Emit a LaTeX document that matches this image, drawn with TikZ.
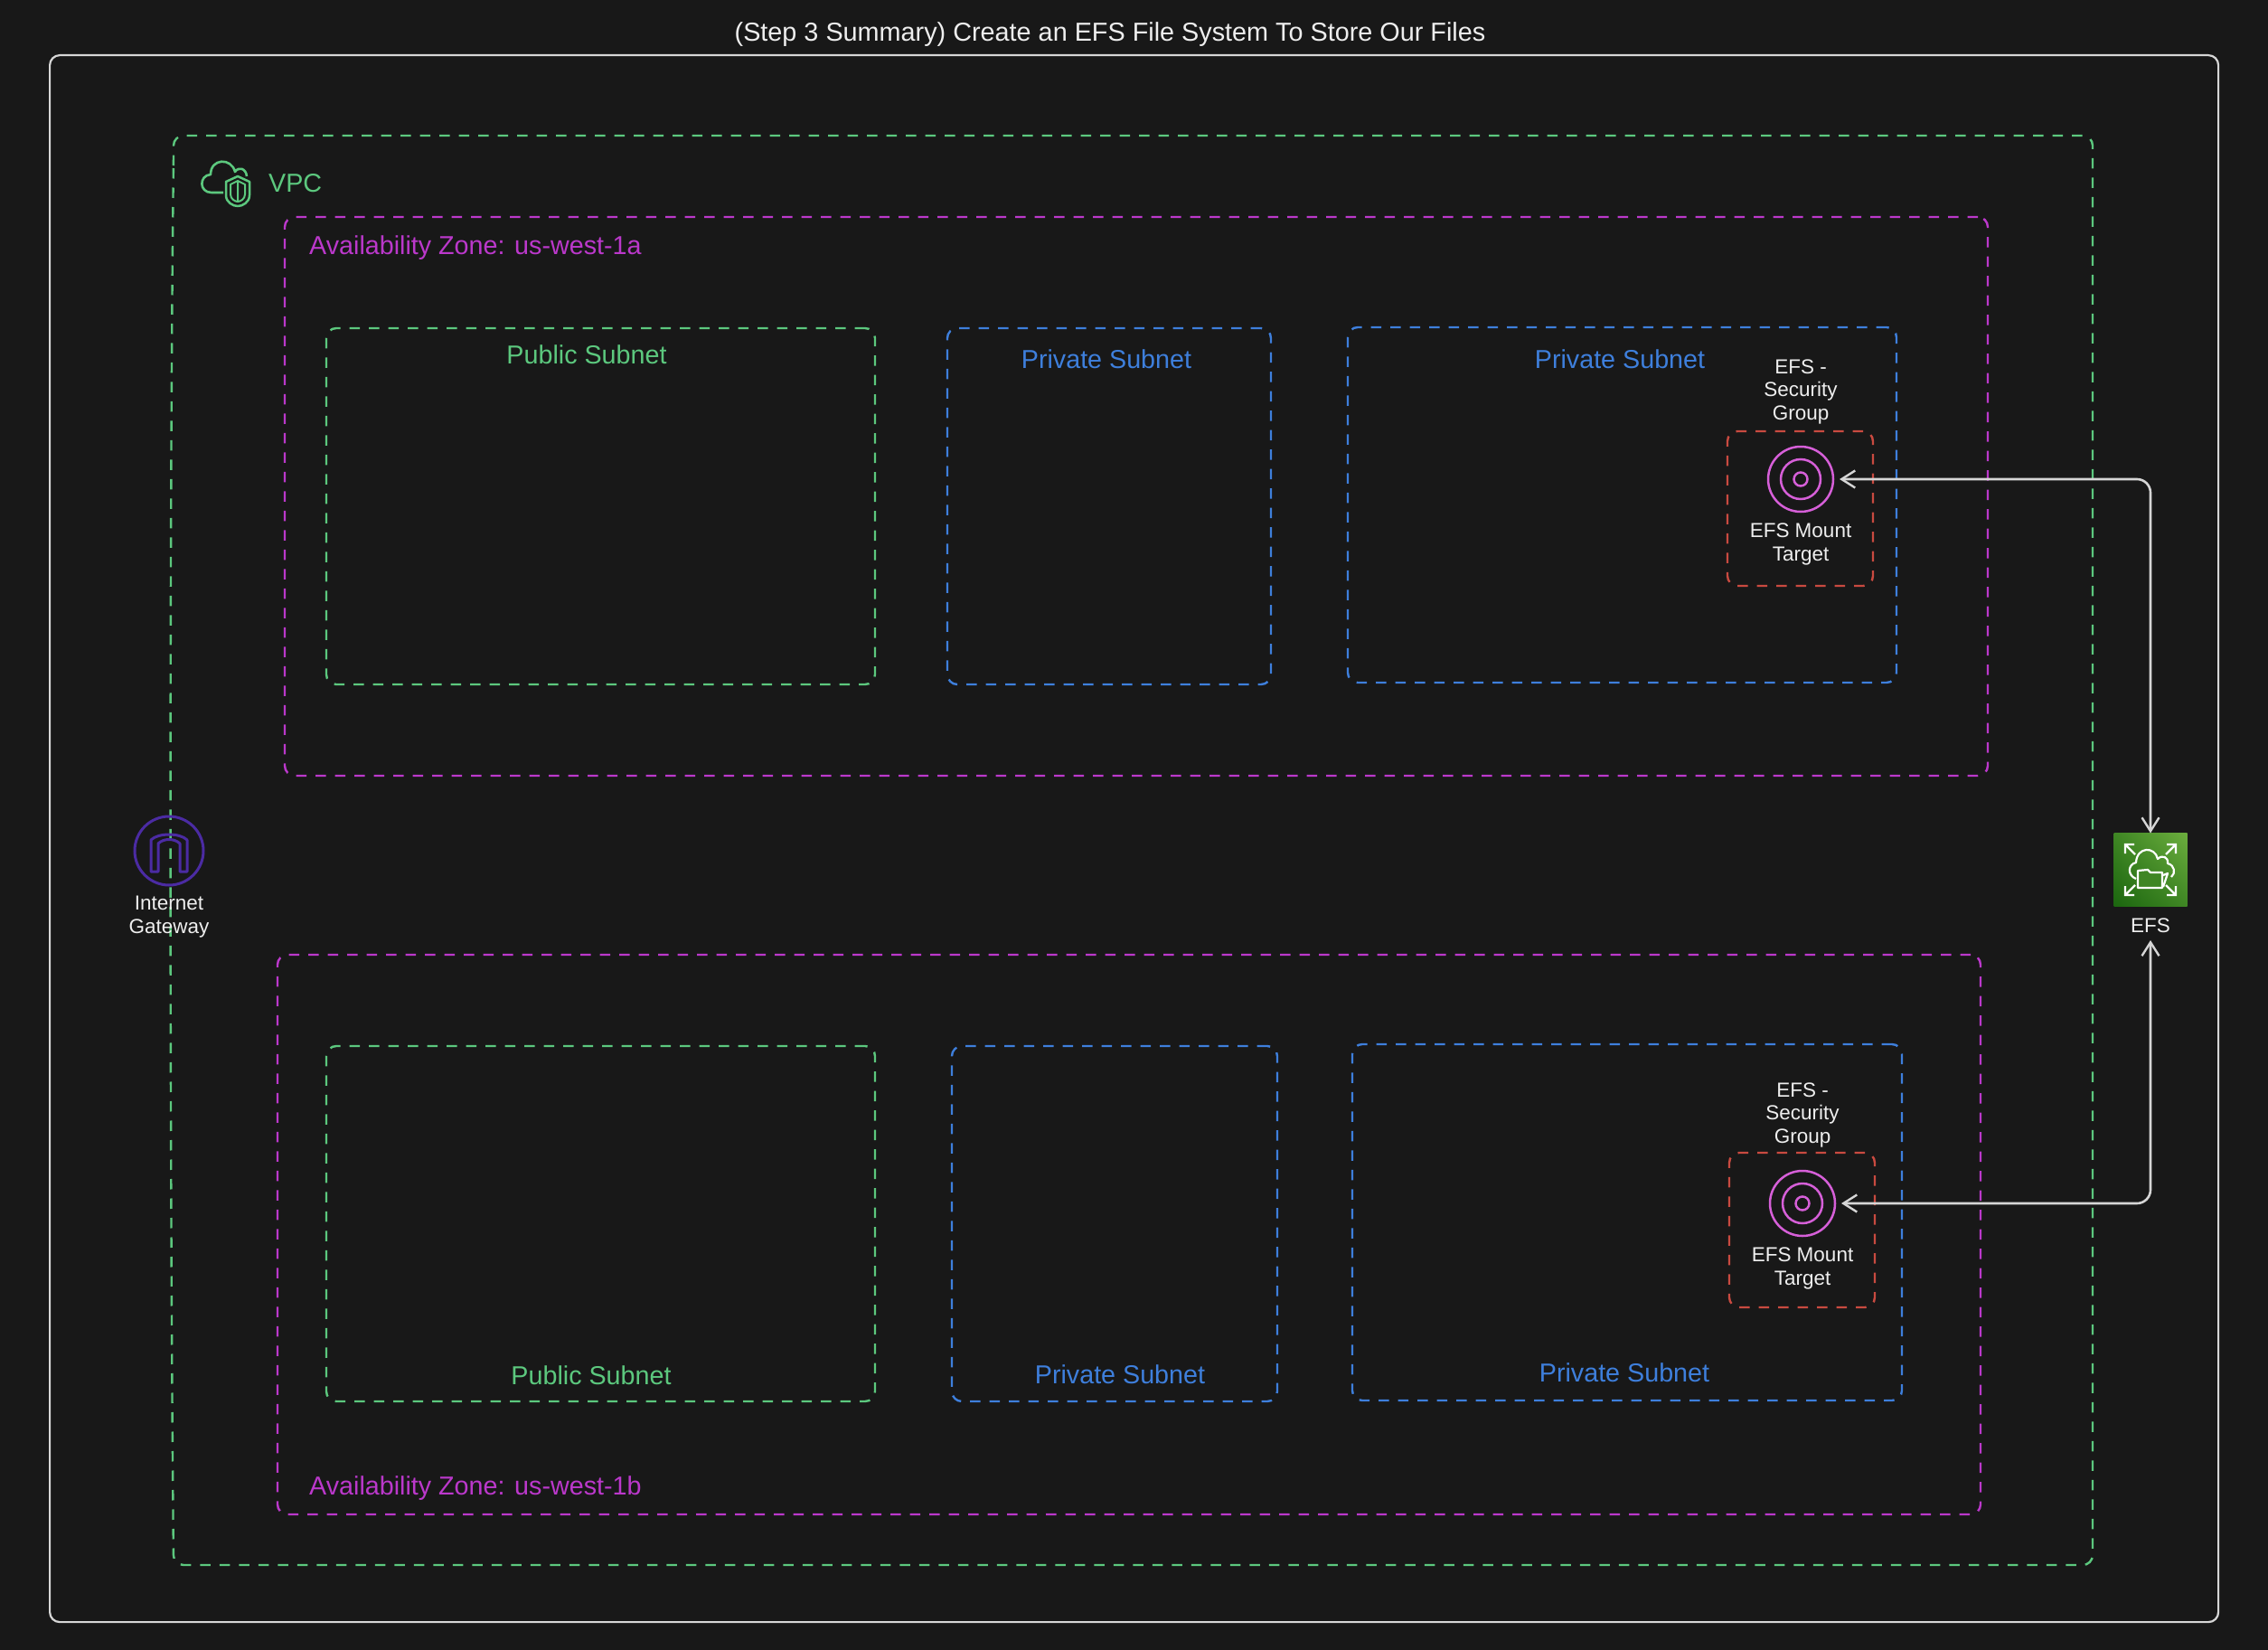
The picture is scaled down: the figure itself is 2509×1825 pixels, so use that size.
\documentclass[tikz,border=0pt]{standalone}
\usepackage{fontspec}
\setmainfont{Liberation Sans}
\usepackage{xcolor}
\usetikzlibrary{calc, positioning, arrows.meta, shadings}
\definecolor{bgdark}{HTML}{181818}
\definecolor{vpcgreen}{HTML}{5CC87E}
\definecolor{azpink}{HTML}{BB38CB}
\definecolor{subblue}{HTML}{3E7FDC}
\definecolor{sgred}{HTML}{C94A40}
\definecolor{mtpink}{HTML}{D65FD8}
\definecolor{igwblue}{HTML}{4B2BA3}
\definecolor{framegrey}{HTML}{D6D6D6}
\definecolor{txtwhite}{HTML}{EEEEEE}
\definecolor{efsdark}{HTML}{1B660F}
\definecolor{efsmid}{HTML}{3F8624}
\definecolor{efslight}{HTML}{6CAE3E}
\tikzset{
    zonebox/.style={draw=#1, line width=2.4pt, dash pattern=on 11.5pt off 10pt, rounded corners=11pt, inner sep=0pt, outer sep=0pt, anchor=north west},
    boxlabel/.style={text=#1, font=\fontsize{28.7}{32}\selectfont, inner sep=0pt},
    smalllabel/.style={text=txtwhite, font=\fontsize{22.5}{25.5}\selectfont, align=center, inner sep=0pt},
    flow/.style={draw=framegrey, line width=2.6pt, rounded corners=15pt, {Straight Barb[length=15pt,width=19pt,line width=2.4pt]}-{Straight Barb[length=15pt,width=19pt,line width=2.4pt]}},
    mountring/.style={circle, draw=mtpink, line width=2.5pt, inner sep=0pt, minimum size=#1}
}
\begin{document}
\begin{tikzpicture}[x=1pt, y=-1pt]
    \useasboundingbox (0,0) rectangle (2509,1825);
    \fill[bgdark] (0,0) rectangle (2509,1825);

    \node[draw=framegrey, line width=2.2pt, rounded corners=11pt, inner sep=0pt, anchor=north west, minimum width=2399pt, minimum height=1733pt] (frame) at (54,60) {};
    \node[text=txtwhite, font=\fontsize{28.8}{32}\selectfont, inner sep=0pt] (title) at (1228,38) {(Step 3 Summary) Create an EFS File System To Store Our Files};

    \draw[vpcgreen, line width=2.4pt, dash pattern=on 11.5pt off 10pt, rounded corners=11pt] (192,175) .. controls (188,500) and (187,1200) .. (192,1731) -- (2315,1731) -- (2315,150) -- (192,150) -- cycle;

    \foreach \n/\c/\x/\y/\w/\h in {
        azA/azpink/315/240/1884/618, azB/azpink/307/1056/1884/619,
        pubA/vpcgreen/361/363/607/394, privA/subblue/1048/363/358/394, privC/subblue/1491/362/607/393,
        pubB/vpcgreen/361/1157/607/393, privB/subblue/1053/1157/360/393, privD/subblue/1496/1155/608/394,
        sgA/sgred/1911/477/161/171, sgB/sgred/1913/1275/161/171} {
        \node[zonebox=\c, minimum width=\w pt, minimum height=\h pt] (\n) at (\x,\y) {};
    }

    \node[boxlabel=vpcgreen, anchor=west] (vpclabel) at (297,203) {VPC};
    \node[boxlabel=azpink, anchor=west] (azAlabel) at (342,274) {Availability Zone: us-west-1a};
    \node[boxlabel=azpink, anchor=west] (azBlabel) at (342,1646) {Availability Zone: us-west-1b};
    \foreach \n/\c/\t/\x/\y in {pubAlabel/vpcgreen/Public Subnet/649/392, privAlabel/subblue/Private Subnet/1224/397, privClabel/subblue/Private Subnet/1792/397,
        pubBlabel/vpcgreen/Public Subnet/654/1521, privBlabel/subblue/Private Subnet/1239/1520, privDlabel/subblue/Private Subnet/1797/1518} {
        \node[boxlabel=\c] (\n) at (\x,\y) {\t};
    }

    \draw[vpcgreen, line width=2.6pt, line join=round] (247,213) -- (234,213) .. controls (220,213) and (220,194) .. (233,193) .. controls (233,175) and (256,174) .. (260,190) .. controls (264,184) and (272,186) .. (273,195);
    \draw[vpcgreen, line width=2.5pt, line join=round] (263,195) -- (250,201) -- (250,216) .. controls (250,224) and (258,228) .. (263,228) .. controls (268,228) and (276,224) .. (276,216) -- (276,201) -- cycle;
    \draw[vpcgreen, line width=2pt, line join=round] (263,200) -- (255,204) -- (255,215) .. controls (255,220) and (260,223) .. (263,223) .. controls (266,223) and (271,220) .. (271,215) -- (271,204) -- cycle (263,200) -- (263,223);

    \node[circle, draw=igwblue, line width=3pt, inner sep=0pt, minimum size=76pt] (igw) at (187,941) {};
    \draw[igwblue, line width=3pt, line join=round] (167,964) -- (167,929) .. controls (175,921) and (199,921) .. (207,929) -- (207,964) -- (199,964) -- (199,933) .. controls (193,927) and (181,927) .. (175,933) -- (175,964) -- cycle;
    \node[smalllabel] (igwlabel) at (187,1014) {Internet\\Gateway};

    \foreach \s/\x/\y/\t in {A/1992/530/433, B/1994/1331/1233} {
        \node[mountring=72pt, outer sep=7pt] (mount\s) at (\x,\y) {};
        \node[mountring=44pt] (mount\s mid) at (mount\s) {};
        \node[mountring=15pt] (mount\s in) at (mount\s) {};
        \node[smalllabel] (sg\s label) at (\x,\t) {EFS -\\Security\\Group};
        \node[smalllabel, below=49pt of mount\s.center, anchor=north] (mount\s label) {EFS Mount\\Target};
    }

    \node[shade, shading=bilinear interpolation, lower left=efsdark, lower right=efsmid, upper left=efsmid, upper right=efslight, minimum size=81pt, inner sep=0pt, outer sep=0pt] (efs) at (2379,962) {};
    \foreach \sx/\sy in {-1/-1,1/-1,-1/1,1/1} {
        \draw[white, line width=2.2pt] ($(efs)+(\sx*18,\sy*28)$) -- ($(efs)+(\sx*28,\sy*28)$) -- ($(efs)+(\sx*28,\sy*18)$) ($(efs)+(\sx*28,\sy*28)$) -- ($(efs)+(\sx*17,\sy*17)$);
    }
    \draw[white, line width=2.2pt, line join=round] (2363,972) .. controls (2353,968) and (2354,956) .. (2363,954) .. controls (2364,936) and (2384,936) .. (2387,950) .. controls (2392,945) and (2399,948) .. (2398,955) .. controls (2406,957) and (2407,966) .. (2402,970);
    \draw[white, fill=efsmid, line width=2.2pt, line join=round] (2365,982) -- (2365,963) -- (2376,962) -- (2379,965) -- (2392,965) -- (2392,982) -- cycle;
    \draw[white, line width=2.2pt, line join=round] (2393,968) -- (2398,966) -- (2393,981);
    \node[smalllabel, outer sep=8pt] (efslabel) at (2379,1024) {EFS};

    \draw[flow] (mountA.east) -| (efs.north);
    \draw[flow] (mountB.east) -| (efslabel.south);
\end{tikzpicture}
\end{document}
